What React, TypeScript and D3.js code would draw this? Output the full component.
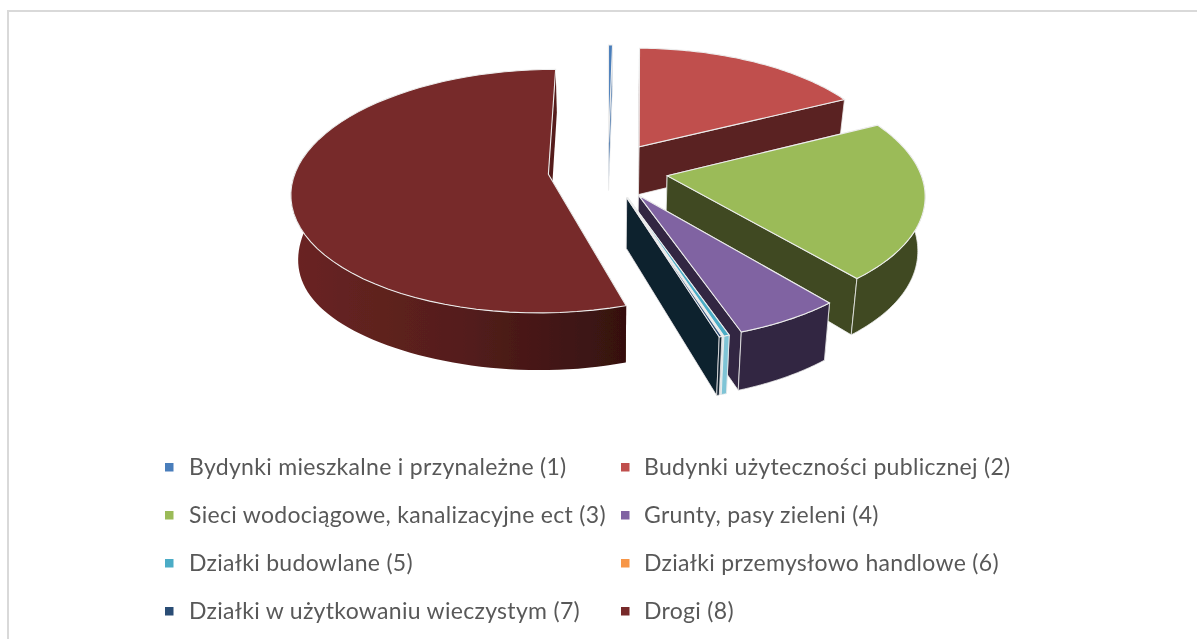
import React from "react";
import * as d3 from "d3";

const categories = [
  "Bydynki mieszkalne i przynależne (1)",
  "Budynki użyteczności publicznej (2)",
  "Sieci wodociągowe, kanalizacyjne ect (3)",
  "Grunty, pasy zieleni (4)",
  "Działki budowlane (5)",
  "Działki przemysłowo handlowe (6)",
  "Działki w użytkowaniu wieczystym (7)",
  "Drogi (8)",
];
const values = [0.3, 17.3, 21.3, 5.8, 0.3, 0.05, 0.15, 54.8];
const topColors = ["#4A7EBB", "#C0504D", "#9BBB59", "#8064A2", "#4BACC6", "#F79646", "#2C4D75", "#772C2A"];
const wallColors = ["#3F6FA8", "#5A2321", "#3F4A21", "#332842", "#7FC4D6", "#A9C9D2", "#10202F", "#551E1C"];
const paintOrder = [0, 1, 2, 7, 3, 4, 5, 6];

const W = 1197, H = 639;
const cx = 608, cy = 170, R = 252.5, explode = 60;
const persp = 0.000547, yScale = 0.4683, height = 49, lean = 0.023;
const sideGainLeft = 0.3, sideGainRight = 0.08;
const frontFrom = (80 * Math.PI) / 180, frontTo = (280 * Math.PI) / 180;

function project(X: number, Y: number, h: number): [number, number] {
  const s = 1 / (1 - persp * Y);
  const side = Math.pow(Math.abs(X) / (R + explode), 4) * (X < 0 ? sideGainLeft : sideGainRight);
  return [cx + X * s * (1 - lean * h), cy + yScale * Y * s + h * height * s * (1 + side)];
}

const pie = d3.pie<number>().sort(null).startAngle(0).endAngle(2 * Math.PI);
const arcs = pie(values);
const line = d3.line();

function slicePaths(i: number) {
  const a = arcs[i];
  const mid = (a.startAngle + a.endAngle) / 2;
  const ox = explode * Math.sin(mid), oy = -explode * Math.cos(mid);
  const rim = (t: number): [number, number] => [ox + R * Math.sin(t), oy - R * Math.cos(t)];
  const sweep = (from: number, to: number) =>
    d3.range(0, 61).map((k) => from + (to - from) * k / 60);
  const thetas = sweep(a.startAngle, a.endAngle);
  const closed = (pts: [number, number][]) => line(pts) + "Z";
  const P = (p: [number, number], h: number) => project(p[0], p[1], h);
  const apex: [number, number] = [ox, oy];
  const top = closed([P(apex, 0), ...thetas.map((t) => P(rim(t), 0))]);
  const wall = (t: number) => closed([P(apex, 0), P(rim(t), 0), P(rim(t), 1), P(apex, 1)]);
  const from = Math.max(a.startAngle, frontFrom), to = Math.min(a.endAngle, frontTo);
  let outer = "";
  if (to > from) {
    const ft = sweep(from, to);
    outer = closed([
      ...ft.map((t) => P(rim(t), 0)),
      ...ft.slice().reverse().map((t) => P(rim(t), 1)),
    ]);
  }
  return { top, startWall: wall(a.startAngle), endWall: wall(a.endAngle), outer };
}

const legendX = [165, 621];
const legendTextX = [189, 644];
const legendRowY = d3.scalePoint<number>().domain([0, 1, 2, 3]).range([467, 611]);

const edge = "#EDEDED";
const drogiShade = ["#6A2422", "#551E1C", "#361110"];

export default function App() {
  return (
    <svg width={W} height={H} style={{ position: "absolute", left: 0, top: 0, background: "#fff" }}>
      <defs>
        <filter id="soft" x="-5%" y="-5%" width="110%" height="110%">
          <feGaussianBlur stdDeviation="0.45" />
        </filter>
        <linearGradient id="drogiWall" gradientUnits="userSpaceOnUse" x1={292} x2={622} y1={0} y2={0}>
          {drogiShade.map((c, i) => (
            <stop key={i} offset={i / (drogiShade.length - 1)} stopColor={c} />
          ))}
        </linearGradient>
      </defs>
      <path d="M8 639V11H1197" fill="none" stroke="#D9D9D9" strokeWidth={2} />
      <g filter="url(#soft)">
        {paintOrder.map((i) => {
          const p = slicePaths(i);
          const isRoad = i === 7;
          const wallStroke = isRoad ? "none" : edge;
          return (
            <g key={i}>
              <path d={p.startWall} fill={wallColors[i]} stroke={wallStroke} strokeWidth={0.8} />
              <path d={p.endWall} fill={wallColors[i]} stroke={wallStroke} strokeWidth={0.8} />
              {p.outer && (
                <path d={p.outer} fill={isRoad ? "url(#drogiWall)" : wallColors[i]} stroke={wallStroke} strokeWidth={0.8} />
              )}
              <path d={p.top} fill={topColors[i]} stroke={edge} strokeWidth={1.1} />
            </g>
          );
        })}
      </g>
      <g filter="url(#soft)">
        {categories.map((c, i) => {
          const col = i % 2, row = Math.floor(i / 2);
          const y = legendRowY(row) as number;
          return (
            <g key={c}>
              <rect x={legendX[col]} y={y - 4} width={8.5} height={8.5} fill={topColors[i]} />
              <text x={legendTextX[col]} y={y + 8} fontFamily="Lato, 'Open Sans', sans-serif" fontSize={23} fill="#595959" letterSpacing={0.3}>
                {c}
              </text>
            </g>
          );
        })}
      </g>
    </svg>
  );
}
